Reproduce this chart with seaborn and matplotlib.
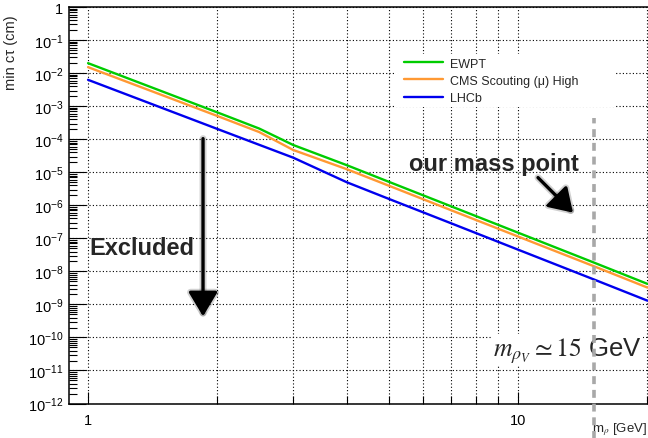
import numpy as np
import pandas as pd
import matplotlib
matplotlib.use("Agg")
import matplotlib.pyplot as plt
import matplotlib.patheffects as pe
from matplotlib.patches import Rectangle
from matplotlib.ticker import FixedLocator, LogLocator, FuncFormatter, NullFormatter
import seaborn as sns

# Minimum proper decay length versus vector-meson mass for each constraint
mass = [1, 2, 2.5, 3, 4, 5, 7, 10, 15, 20]
ewpt = [2.02e-2, 6.5e-4, 2.12e-4, 6.73e-5, 1.64e-5, 5.2e-6, 9.27e-7, 1.49e-7, 1.86e-8, 4.19e-9]
cms_scouting = [1.53e-2, 5.06e-4, 1.66e-4, 4.75e-5, 1.24e-5, 3.96e-6, 7.06e-7, 1.14e-7, 1.44e-8, 3.24e-9]
lhcb = [6.32e-3, 2.05e-4, 6.82e-5, 2.78e-5, 4.99e-6, 1.58e-6, 2.84e-7, 4.56e-8, 5.73e-9, 1.30e-9]
series_names = ["EWPT", "CMS Scouting (\u03bc) High", "LHCb"]
series_colors = ["#00cc00", "#ff9933", "#0000ee"]
mass_point = 15  # GeV
x_major = [1, 10]
x_minor = [2, 3, 4, 5, 6, 7, 8, 9, 20]

df = pd.DataFrame({
    "mass": mass * 3,
    "ctau": ewpt + cms_scouting + lhcb,
    "series": [series_names[0]] * len(mass) + [series_names[1]] * len(mass) + [series_names[2]] * len(mass),
})

sns.set_style("ticks")
plt.rcParams["font.family"] = ["Liberation Sans", "DejaVu Sans"]
plt.rcParams["mathtext.fontset"] = "stix"

W, H = 648, 439
fig = plt.figure(figsize=(W / 100, H / 100), dpi=100)
ax_left, ax_right, ax_top, ax_bottom = 69, 648, 8.2, 404.5
ax = fig.add_axes([ax_left / W, 1 - ax_bottom / H, (ax_right - ax_left) / W, (ax_bottom - ax_top) / H])

sns.lineplot(data=df, x="mass", y="ctau", hue="series", hue_order=series_names,
             palette=series_colors, linewidth=1.7, estimator=None, sort=False, ax=ax)

ax.set_xscale("log")
ax.set_yscale("log")
ax.set_xlim(0.903, 20.06)
ax.set_ylim(1e-12, 1)

# axes, ticks and labels
for side in ["left", "bottom", "top"]:
    ax.spines[side].set_linewidth(1.1)
    ax.spines[side].set_color("black")
ax.spines["right"].set_visible(False)

ax.xaxis.set_major_locator(FixedLocator(x_major))
ax.xaxis.set_minor_locator(FixedLocator(x_minor))
ax.xaxis.set_major_formatter(FuncFormatter(lambda v, p: f"{v:g}"))
ax.xaxis.set_minor_formatter(NullFormatter())
ax.yaxis.set_major_locator(FixedLocator([10.0 ** e for e in range(-12, 1)]))
ax.yaxis.set_minor_locator(LogLocator(base=10, subs=np.arange(2, 10), numticks=300))
ax.yaxis.set_minor_formatter(NullFormatter())


def decade(v, pos):
    e = int(round(np.log10(v)))
    return "1" if e == 0 else r"$\mathregular{10^{%d}}$" % e


ax.yaxis.set_major_formatter(FuncFormatter(decade))

ax.tick_params(axis="both", which="both", direction="in", top=False, right=False,
               colors="black", width=0.8, labelsize=10.5)
ax.tick_params(axis="y", which="major", length=12, pad=4)
ax.tick_params(axis="y", which="minor", length=6)
ax.tick_params(axis="x", which="major", length=9, pad=7)
ax.tick_params(axis="x", which="minor", length=5.5)

grid_kw = dict(color="black", linestyle=(0, (1, 2)), linewidth=0.8)
ax.grid(True, axis="x", which="both", **grid_kw)
ax.grid(True, axis="y", which="major", **grid_kw)
ax.set_axisbelow(True)

ax.set_ylabel("min c\u03c4 (cm)", fontsize=10.5, loc="top")
ax.yaxis.set_label_coords(-0.088, 0.983)
ax.set_xlabel(r"m$_\rho$ [GeV]", fontsize=9.5, loc="right")
ax.xaxis.set_label_coords(0.9985, -0.043)

# legend on a white patch
ax.add_patch(Rectangle((0.563, 0.748), 0.38, 0.134, transform=ax.transAxes,
                       facecolor="white", edgecolor="none", zorder=1))
handles, labels = ax.get_legend_handles_labels()
leg = ax.legend(handles, labels, loc="upper left", bbox_to_anchor=(404 / W, 1 - 58.5 / H),
                bbox_transform=fig.transFigure, frameon=False, fontsize=9,
                handlelength=3.1, handletextpad=0.6, labelspacing=0.42,
                borderaxespad=0, borderpad=0)
for line in leg.get_lines():
    line.set_linewidth(1.7)

# annotations
ax.text(1.005, 10 ** -7.46, "Excluded", fontsize=17, fontweight="bold", ha="left", va="baseline")
ax.text(5.58, 10 ** -4.94, "our mass point", fontsize=17, fontweight="bold", ha="left", va="baseline")

shadow = [pe.Stroke(linewidth=5, foreground=(0, 0, 0, 0.18)), pe.Normal()]
ax.annotate("", xy=(1.851, 10 ** -9.36), xytext=(1.851, 10 ** -3.98),
            arrowprops=dict(arrowstyle="-|>,head_length=0.75,head_width=0.45", lw=2.4,
                            color="black", shrinkA=0, shrinkB=0, mutation_scale=20,
                            path_effects=shadow))
ax.annotate("", xy=(13.42, 10 ** -6.22), xytext=(11.13, 10 ** -5.16),
            arrowprops=dict(arrowstyle="-|>,head_length=0.7,head_width=0.45", lw=2.4,
                            color="black", shrinkA=0, shrinkB=0, mutation_scale=20,
                            path_effects=shadow))

ax.text(8.75, 10 ** -10.53, r"$m_{\rho_V} \simeq 15$ GeV", fontsize=18.5, ha="left", va="baseline",
        bbox=dict(facecolor="white", edgecolor="none", pad=1), zorder=4)

ax.axvline(mass_point, ymin=-0.09, ymax=0.72, clip_on=False, color="#a8a8a8",
           linewidth=2.6, linestyle=(0, (2.2, 1.6)), zorder=5)

fig.savefig("out.png", dpi=100)
